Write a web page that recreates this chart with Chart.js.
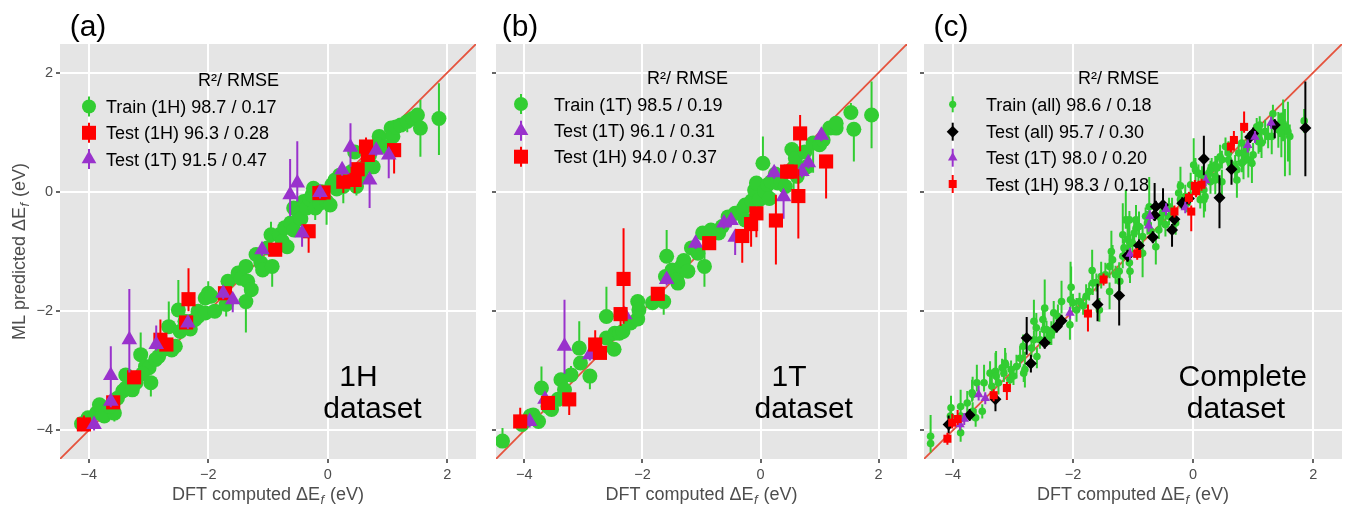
<!DOCTYPE html>
<html>
<head>
<meta charset="utf-8">
<script src="https://cdn.jsdelivr.net/npm/chart.js@4.4.0/dist/chart.umd.min.js"></script>
<style>
  html, body { margin: 0; padding: 0; background: #fff; }
  #wrap { position: relative; width: 1348px; height: 505px; overflow: hidden; }
  canvas { position: absolute; top: 0; }
</style>
</head>
<body>
<div id="wrap">
  <canvas id="pa" width="486" height="505" style="left:0px;width:486px;height:505px"></canvas>
  <canvas id="pb" width="431" height="505" style="left:486px;width:431px;height:505px"></canvas>
  <canvas id="pc" width="431" height="505" style="left:917px;width:431px;height:505px"></canvas>
</div>
<script>
// axis range and ticks (same on both axes of every panel)
const AXIS_MIN = -4.48, AXIS_MAX = 2.48;
const tickValues = [-4, -2, 0, 2];
const diagLine = [-4.48, 2.48];

// rows: [DFT computed, ML predicted, error below, error above]
const trainA = [
  [-4.12,-3.89,0.1,0.1],[-4.01,-3.79,0.1,0.1],[-3.87,-3.71,0.1,0.1],[-3.82,-3.57,0.1,0.1],
  [-3.74,-3.76,0.1,0.1],[-3.57,-3.71,0.14,0.1],[-3.65,-3.60,0.1,0.1],[-3.52,-3.46,0.1,0.1],
  [-3.43,-3.34,0.1,0.1],[-3.38,-3.29,0.1,0.1],[-3.27,-3.32,0.1,0.1],[-3.21,-3.20,0.1,0.1],
  [-3.38,-3.07,0.1,0.1],[-3.13,-2.73,0.1,0.37],[-3.05,-2.93,0.1,0.1],[-2.99,-2.95,0.1,0.1],
  [-3.10,-3.05,0.1,0.1],[-2.96,-3.20,0.23,0.1],[-2.88,-2.81,0.1,0.1],[-2.83,-2.76,0.1,0.1],
  [-2.77,-2.65,0.1,0.1],[-2.66,-2.26,0.1,0.42],[-2.61,-2.65,0.1,0.1],[-2.55,-2.59,0.1,0.1],
  [-2.47,-2.34,0.1,0.1],[-2.50,-1.98,0.1,0.5],[-2.39,-2.17,0.1,0.1],[-2.30,-2.30,0.1,0.1],
  [-2.28,-2.17,0.1,0.1],[-2.22,-2.14,0.1,0.1],[-2.17,-2.00,0.1,0.1],[-2.17,-2.09,0.1,0.1],
  [-2.05,-2.03,0.1,0.1],[-2.05,-1.78,0.1,0.1],[-2.00,-1.70,0.1,0.2],[-1.95,-1.75,0.1,0.1],
  [-1.89,-2.00,0.1,0.1],[-1.70,-1.89,0.2,0.1],[-1.67,-1.50,0.1,0.1],[-1.50,-1.36,0.1,0.1],
  [-1.45,-1.45,0.1,0.1],[-1.37,-1.25,0.1,0.1],[-1.37,-1.84,0.52,0.25],[-1.34,-1.50,0.1,0.1],
  [-1.28,-1.64,0.1,0.1],[-1.20,-1.05,0.1,0.1],[-1.12,-1.19,0.1,0.1],[-1.09,-1.31,0.1,0.1],
  [-0.93,-1.25,0.34,0.1],[-1.01,-0.94,0.1,0.1],[-0.95,-0.72,0.1,0.22],[-0.81,-0.72,0.1,0.1],
  [-0.76,-0.83,0.1,0.1],[-0.72,-0.60,0.1,0.1],[-0.68,-0.92,0.1,0.1],[-0.62,-0.52,0.1,0.1],
  [-0.57,-0.64,0.1,0.1],[-0.57,-0.27,0.1,0.1],[-0.48,-0.36,0.1,0.1],[-0.45,-0.45,0.1,0.1],
  [-0.40,-0.16,0.1,0.1],[-0.35,-0.27,0.1,0.1],[-0.30,-0.12,0.1,0.1],[-0.26,-0.05,0.1,0.1],
  [-0.24,0.06,0.1,0.1],[-0.21,-0.27,0.2,0.1],[-0.13,-0.19,0.1,0.1],[-0.10,0.00,0.1,0.1],
  [-0.02,-0.16,0.39,0.1],[0.04,-0.22,0.1,0.1],[0.07,0.12,0.1,0.1],[0.12,0.20,0.1,0.1],
  [0.15,0.05,0.1,0.1],[0.20,0.28,0.1,0.1],[0.26,0.09,0.28,0.1],[0.34,0.26,0.1,0.1],
  [0.40,0.34,0.1,0.1],[0.45,0.67,0.1,0.1],[0.48,0.09,0.15,0.1],[0.56,0.26,0.1,0.1],
  [0.62,0.42,0.1,0.1],[0.70,0.62,0.1,0.1],[0.76,0.42,0.1,0.1],[0.86,0.93,0.1,0.1],
  [0.84,0.79,0.1,0.1],[0.95,0.76,0.1,0.1],[1.06,1.07,0.1,0.1],[1.09,0.93,0.1,0.1],
  [1.14,1.09,0.1,0.1],[1.22,1.12,0.1,0.1],[1.33,1.18,0.18,0.1],[1.42,1.23,0.1,0.1],
  [1.50,1.29,0.1,0.1],[1.55,1.07,0.48,0.47],[1.86,1.23,0.61,0.59]
];
const test1hA = [
  [-4.08,-3.90,0.1,0.15],[-3.59,-3.53,0.1,0.1],[-3.24,-3.11,0.1,0.1],[-2.80,-2.48,0.1,0.34],
  [-2.70,-2.56,0.1,0.1],[-2.37,-2.19,0.1,0.1],[-2.33,-1.80,0.2,0.52],[-1.72,-1.70,0.1,0.1],
  [-0.88,-0.97,0.1,0.1],[-0.32,-0.66,0.36,0.1],[-0.14,-0.02,0.1,0.1],[-0.07,-0.01,0.1,0.1],
  [0.26,0.17,0.19,0.1],[0.45,0.20,0.22,0.1],[0.50,0.38,0.1,0.1],[0.64,0.76,0.1,0.15],
  [0.67,0.62,0.1,0.1],[1.11,0.70,0.39,0.1]
];
const test1tA = [
  [-3.91,-3.90,0.1,0.1],[-3.63,-3.51,0.1,0.1],[-3.63,-3.08,0.4,0.49],[-3.32,-2.48,0.55,0.85],
  [-2.87,-2.56,0.1,0.32],[-2.34,-2.20,0.1,0.1],[-1.75,-1.70,0.1,0.1],[-1.59,-1.81,0.21,0.1],
  [-1.10,-0.97,0.1,0.1],[-0.63,-0.05,0.36,0.6],[-0.51,0.15,0.31,0.7],[-0.43,-0.69,0.23,0.1],
  [-0.13,-0.01,0.1,0.1],[0.24,0.37,0.1,0.1],[0.38,0.75,0.33,0.4],[0.70,0.20,0.47,0.1],
  [0.81,0.70,0.1,0.1],[1.02,0.62,0.39,0.1]
];

const trainB = [
  [-4.37,-4.18,0.1,0.22],[-4.04,-3.90,0.1,0.1],[-3.90,-3.76,0.1,0.1],[-3.85,-3.74,0.1,0.1],
  [-3.76,-3.85,0.1,0.1],[-3.71,-3.29,0.1,0.36],[-3.60,-3.60,0.1,0.1],[-3.54,-3.65,0.1,0.1],
  [-3.43,-3.48,0.1,0.1],[-3.38,-3.15,0.1,0.1],[-3.32,-3.32,0.1,0.1],[-3.21,-3.07,0.1,0.15],
  [-3.07,-2.62,0.1,0.45],[-3.05,-2.87,0.1,0.1],[-2.89,-3.09,0.22,0.1],[-2.61,-2.09,0.1,0.5],
  [-2.61,-2.45,0.1,0.1],[-2.47,-2.37,0.1,0.1],[-2.48,-2.64,0.1,0.1],[-2.39,-2.37,0.1,0.1],
  [-2.33,-2.34,0.1,0.1],[-2.20,-2.20,0.1,0.1],[-2.08,-2.13,0.1,0.1],[-2.08,-1.84,0.1,0.1],
  [-2.06,-1.98,0.1,0.1],[-1.83,-1.86,0.1,0.1],[-1.64,-1.84,0.22,0.1],[-1.61,-1.42,0.1,0.1],
  [-1.59,-1.08,0.1,0.44],[-1.50,-1.31,0.1,0.1],[-1.42,-1.47,0.1,0.1],[-1.40,-1.53,0.1,0.1],
  [-1.34,-1.25,0.1,0.1],[-1.30,-1.15,0.1,0.1],[-1.23,-1.33,0.1,0.1],[-1.17,-0.94,0.1,0.1],
  [-1.06,-1.03,0.1,0.1],[-0.95,-1.25,0.34,0.55],[-0.98,-0.69,0.1,0.1],[-0.84,-0.64,0.1,0.1],
  [-0.71,-0.69,0.1,0.1],[-0.65,-0.58,0.1,0.1],[-0.55,-0.42,0.1,0.1],[-0.43,-0.36,0.1,0.1],
  [-0.29,-0.27,0.1,0.1],[-0.26,-0.47,0.1,0.1],[-0.26,-0.22,0.1,0.1],[-0.15,-0.15,0.1,0.1],
  [-0.10,0.03,0.1,0.1],[-0.07,0.15,0.1,0.1],[-0.02,-0.13,0.1,0.1],[0.04,0.48,0.1,0.45],
  [0.07,0.01,0.1,0.1],[0.12,0.12,0.1,0.1],[0.15,-0.11,0.1,0.1],[0.18,0.17,0.1,0.1],
  [0.25,0.30,0.1,0.1],[0.29,0.15,0.1,0.1],[0.34,0.20,0.1,0.1],[0.42,0.09,0.1,0.1],
  [0.53,0.71,0.1,0.1],[0.56,0.40,0.5,0.1],[0.59,0.56,0.1,0.1],[0.62,0.26,0.1,0.1],
  [0.75,0.67,0.1,0.1],[0.78,0.42,0.16,0.1],[0.89,0.82,0.5,0.1],[1.00,0.79,0.1,0.1],
  [1.06,0.87,0.1,0.1],[1.17,1.07,0.1,0.1],[1.28,1.07,0.1,0.1],[1.28,1.15,0.1,0.1],
  [1.53,1.33,0.1,0.16],[1.58,1.05,0.54,0.1],[1.88,1.29,0.56,0.56]
];
const test1tB = [
  [-3.91,-3.85,0.1,0.1],[-3.65,-3.48,0.1,0.1],[-3.32,-2.59,0.46,0.78],[-2.89,-2.73,0.1,0.1],
  [-2.30,-2.06,0.1,0.1],[-1.59,-1.47,0.1,0.1],[-1.10,-0.86,0.1,0.1],[-0.62,-0.52,0.1,0.1],
  [-0.50,-0.48,0.1,0.1],[-0.43,-0.76,0.3,0.1],[0.23,0.32,0.1,0.1],[0.39,-0.08,0.37,0.1],
  [0.70,0.34,0.1,0.1],[0.81,0.49,0.1,0.1],[1.03,0.95,0.1,0.1]
];
const test1hB = [
  [-4.07,-3.85,0.1,0.23],[-3.60,-3.54,0.1,0.1],[-3.24,-3.48,0.26,0.1],[-2.80,-2.56,0.1,0.24],
  [-2.72,-2.70,0.1,0.1],[-2.37,-2.05,0.2,0.1],[-2.32,-1.46,0.75,0.85],[-1.74,-1.71,0.1,0.1],
  [-0.87,-0.86,0.1,0.1],[-0.31,-0.74,0.45,0.1],[-0.16,-0.54,0.38,0.1],[-0.07,-0.36,0.4,0.1],
  [0.26,-0.48,0.74,0.43],[0.45,0.34,0.1,0.1],[0.51,0.34,0.1,0.1],[0.64,-0.07,0.71,0.45],
  [0.67,0.98,0.3,0.31],[1.11,0.51,0.62,0.1]
];

const trainC = [
  [-4.37,-4.10,0.2,0.36],[-4.37,-4.22,0.15,0.15],[-4.04,-3.76,0.15,0.15],[-4.03,-3.62,0.15,0.2],
  [-3.87,-4.04,0.15,0.15],[-3.87,-3.60,0.1,0.28],[-3.87,-3.76,0.15,0.15],[-3.76,-3.54,0.15,0.2],
  [-3.68,-3.37,0.15,0.22],[-3.67,-3.68,0.15,0.15],[-3.67,-3.40,0.1,0.3],[-3.62,-3.79,0.15,0.15],
  [-3.60,-3.20,0.15,0.3],[-3.51,-3.68,0.12,0.12],[-3.48,-3.20,0.15,0.3],[-3.38,-3.04,0.2,0.2],
  [-3.35,-3.26,0.2,0.2],[-3.29,-3.01,0.15,0.31],[-3.28,-3.09,0.12,0.42],[-3.24,-3.20,0.2,0.2],
  [-3.18,-2.95,0.15,0.15],[-3.15,-3.04,0.15,0.15],[-3.13,-2.87,0.2,0.25],[-3.12,-2.90,0.1,0.2],
  [-3.05,-3.15,0.15,0.15],[-3.03,-2.98,0.15,0.15],[-2.99,-3.09,0.15,0.15],[-2.94,-2.93,0.2,0.2],
  [-2.88,-2.79,0.15,0.2],[-2.83,-2.59,0.2,0.2],[-2.82,-3.04,0.15,0.15],[-2.80,-2.98,0.3,0.3],
  [-2.69,-2.62,0.15,0.15],[-2.65,-2.17,0.15,0.36],[-2.65,-2.48,0.15,0.15],[-2.61,-2.28,0.2,0.25],
  [-2.60,-2.76,0.2,0.15],[-2.55,-2.48,0.15,0.15],[-2.50,-2.14,0.2,0.2],[-2.48,-2.31,0.15,0.2],
  [-2.47,-1.95,0.15,0.48],[-2.44,-2.31,0.15,0.15],[-2.39,-2.42,0.15,0.15],[-2.36,-2.37,0.2,0.2],
  [-2.32,-2.03,0.15,0.2],[-2.32,-2.31,0.15,0.15],[-2.25,-2.09,0.2,0.2],[-2.19,-1.84,0.2,0.35],
  [-2.05,-2.23,0.25,0.25],[-2.04,-1.81,0.15,0.64],[-2.03,-1.60,0.15,0.35],[-2.00,-1.86,0.15,0.15],
  [-1.94,-1.98,0.2,0.2],[-1.89,-1.84,0.15,0.15],[-1.83,-1.91,0.15,0.15],[-1.78,-1.75,0.2,0.2],
  [-1.73,-1.67,0.15,0.15],[-1.68,-1.32,0.15,0.35],[-1.67,-1.53,0.2,0.2],[-1.61,-1.52,0.15,0.15],
  [-1.56,-1.98,0.2,0.2],[-1.53,-1.42,0.2,0.25],[-1.46,-1.39,0.15,0.2],[-1.39,-1.25,0.2,0.2],
  [-1.39,-1.67,0.3,0.15],[-1.36,-1.00,0.15,0.35],[-1.34,-1.14,0.25,0.25],[-1.29,-1.39,0.15,0.15],
  [-1.23,-1.33,0.15,0.15],[-1.22,-1.50,0.15,0.15],[-1.17,-0.72,0.15,0.53],[-1.17,-1.08,0.2,0.2],
  [-1.15,-0.94,0.15,0.15],[-1.12,-0.47,0.15,0.5],[-1.09,-0.80,0.2,0.3],[-1.06,-1.19,0.25,0.2],
  [-1.06,-0.47,0.6,0.15],[-1.05,-1.33,0.2,0.2],[-1.05,-0.86,0.15,0.15],[-1.01,-0.86,0.15,0.15],
  [-0.98,-0.69,0.15,0.2],[-0.95,-0.61,0.15,0.15],[-0.95,-0.47,0.25,0.25],[-0.90,-0.58,0.25,0.25],
  [-0.84,-1.03,0.4,0.15],[-0.84,-0.75,0.2,0.2],[-0.79,-0.41,0.15,0.15],[-0.76,-0.52,0.2,0.2],
  [-0.73,-0.25,0.2,0.5],[-0.70,-0.66,0.15,0.15],[-0.62,-0.92,0.3,0.15],[-0.57,-0.64,0.15,0.15],
  [-0.54,-0.44,0.15,0.15],[-0.51,-0.36,0.2,0.2],[-0.46,-0.55,0.2,0.2],[-0.40,-0.41,0.15,0.15],
  [-0.40,-0.25,0.15,0.15],[-0.35,-0.30,0.2,0.2],[-0.29,-0.52,0.2,0.2],[-0.24,-0.02,0.2,0.2],
  [-0.21,-0.13,0.15,0.15],[-0.21,0.10,0.15,0.32],[-0.13,-0.08,0.2,0.2],[-0.10,-0.19,0.15,0.15],
  [-0.04,0.12,0.2,0.2],[0.01,0.45,0.15,0.45],[0.04,0.37,0.2,0.2],[0.09,0.31,0.15,0.15],
  [0.12,-0.13,0.15,0.15],[0.15,0.28,0.15,0.15],[0.18,-0.13,0.3,0.15],[0.18,0.03,0.2,0.2],
  [0.20,-0.08,0.25,0.2],[0.26,0.31,0.15,0.15],[0.29,0.37,0.15,0.15],[0.29,0.17,0.2,0.2],
  [0.31,0.42,0.15,0.15],[0.37,0.26,0.3,0.2],[0.37,0.45,0.15,0.15],[0.37,0.20,0.2,0.2],
  [0.40,0.40,0.2,0.2],[0.45,0.59,0.2,0.2],[0.48,0.17,0.3,0.2],[0.48,0.54,0.15,0.15],
  [0.54,0.76,0.15,0.15],[0.59,0.54,0.15,0.15],[0.59,0.65,0.2,0.2],[0.62,0.48,0.15,0.15],
  [0.70,0.42,0.25,0.2],[0.73,0.20,0.3,0.2],[0.73,0.37,0.33,0.15],[0.76,0.65,0.15,0.15],
  [0.81,0.48,0.15,0.15],[0.81,0.82,0.2,0.2],[0.84,0.51,0.3,0.2],[0.87,0.65,0.15,0.15],
  [0.89,0.73,0.15,0.15],[0.92,0.54,0.3,0.2],[0.98,0.48,0.33,0.15],[1.00,0.62,0.2,0.2],
  [1.06,1.09,0.15,0.15],[1.09,0.84,0.2,0.2],[1.11,0.87,0.2,0.2],[1.11,1.12,0.15,0.15],
  [1.14,0.82,0.25,0.25],[1.20,1.01,0.2,0.2],[1.25,0.93,0.2,0.2],[1.31,0.93,0.3,0.3],
  [1.33,1.31,0.15,0.15],[1.42,1.04,0.3,0.3],[1.44,1.12,0.2,0.2],[1.47,0.98,0.4,0.35],
  [1.50,1.15,0.3,0.4],[1.53,1.09,0.83,0.3],[1.58,1.01,0.5,0.5],[1.61,0.93,0.65,0.2],
  [1.85,1.19,0.2,0.2]
];
const testAllC = [
  [-4.07,-3.90,0.15,0.15],[-3.72,-3.74,0.1,0.1],[-3.29,-3.48,0.2,0.1],[-2.77,-2.45,0.28,0.35],
  [-2.70,-2.88,0.15,0.15],[-2.47,-2.53,0.1,0.1],[-2.27,-2.26,0.1,0.1],[-2.19,-2.16,0.1,0.1],
  [-1.59,-1.89,0.28,0.35],[-1.23,-1.74,0.5,0.29],[-1.09,-1.07,0.1,0.1],[-0.90,-0.90,0.1,0.1],
  [-0.67,-0.76,0.1,0.1],[-0.64,-0.39,0.1,0.54],[-0.62,-0.25,0.1,0.1],[-0.50,-0.22,0.1,0.28],
  [-0.35,-0.64,0.28,0.1],[-0.31,-0.46,0.1,0.1],[-0.18,-0.19,0.1,0.1],[-0.07,-0.11,0.1,0.1],
  [0.18,0.55,0.27,0.39],[0.44,-0.10,0.51,0.38],[0.64,0.38,0.26,0.16],[0.95,0.92,0.1,0.1],
  [1.00,0.98,0.1,0.1],[1.36,1.12,0.22,0.1],[1.87,1.07,0.81,0.78]
];
const test1tC = [
  [-3.88,-3.90,0.1,0.1],[-3.81,-3.81,0.1,0.1],[-3.57,-3.40,0.1,0.15],[-3.46,-3.46,0.1,0.1],
  [-2.05,-2.03,0.1,0.1],[-1.05,-1.04,0.1,0.1],[-0.74,-0.57,0.1,0.1],[-0.72,-0.41,0.1,0.1],
  [-0.45,-0.29,0.1,0.1],[-0.13,-0.26,0.1,0.1],[0.21,0.19,0.1,0.1],[0.91,0.78,0.12,0.1],
  [1.03,0.92,0.1,0.1],[1.30,1.16,0.1,0.1]
];
const test1hC = [
  [-4.09,-4.14,0.1,0.1],[-4.01,-3.87,0.1,0.15],[-3.92,-3.81,0.1,0.15],[-3.32,-3.41,0.1,0.1],
  [-3.10,-3.29,0.2,0.1],[-1.75,-2.04,0.3,0.15],[-1.49,-1.47,0.1,0.1],[-0.93,-1.04,0.1,0.1],
  [-0.31,-0.33,0.1,0.1],[-0.07,-0.10,0.1,0.1],[-0.03,-0.33,0.33,0.1],[0.03,0.10,0.1,0.1],
  [0.05,0.01,0.1,0.1],[0.14,0.12,0.1,0.1],[0.63,0.76,0.1,0.1],[0.68,0.87,0.1,0.15],
  [0.85,1.09,0.1,0.26]
];

const labelsA = ['Train (1H) 98.7 / 0.17', 'Test (1H) 96.3 / 0.28', 'Test (1T) 91.5 / 0.47'];
const labelsB = ['Train (1T) 98.5 / 0.19', 'Test (1T) 96.1 / 0.31', 'Test (1H) 94.0 / 0.37'];
const labelsC = ['Train (all) 98.6 / 0.18', 'Test (all) 95.7 / 0.30', 'Test (1T) 98.0 / 0.20', 'Test (1H) 98.3 / 0.18'];
const legendTitle = 'R\u00b2/ RMSE';
const xTitle = 'DFT computed \u0394E_f (eV)';
const yTitle = 'ML predicted \u0394E_f (eV)';

const GREEN = '#32CD32', RED = '#FF0000', PURPLE = '#9932CC', BLACK = '#000000';
const LINE_RED = '#E5533D';
const PANEL_BG = '#E5E5E5';
const AXIS_TEXT = '#4D4D4D';
const FONT = "'Liberation Sans', Arial, Helvetica, sans-serif";

// grey panel behind the grid
const panelBg = {
  id: 'panelBg',
  beforeDraw(chart) {
    const { ctx, chartArea: a } = chart;
    ctx.save();
    ctx.fillStyle = PANEL_BG;
    ctx.fillRect(a.left, a.top, a.right - a.left, a.bottom - a.top);
    ctx.restore();
  }
};

// vertical error bars, drawn just under each series
const errorBars = {
  id: 'errorBars',
  beforeDatasetDraw(chart, args) {
    const ds = chart.data.datasets[args.index];
    if (!ds.bars) return;
    const { ctx, chartArea: a, scales: { x, y } } = chart;
    ctx.save();
    ctx.beginPath();
    ctx.rect(a.left, a.top, a.right - a.left, a.bottom - a.top);
    ctx.clip();
    ctx.strokeStyle = ds.barColor;
    ctx.lineWidth = ds.barWidth;
    ctx.beginPath();
    ds.bars.forEach(r => {
      const px = x.getPixelForValue(r[0]);
      ctx.moveTo(px, y.getPixelForValue(r[1] - r[2]));
      ctx.lineTo(px, y.getPixelForValue(r[1] + r[3]));
    });
    ctx.stroke();
    ctx.restore();
  }
};
Chart.register(panelBg, errorBars);

function drawSymbol(ctx, s, x, y) {
  ctx.fillStyle = s.color;
  ctx.strokeStyle = s.color;
  ctx.lineWidth = 2;
  ctx.beginPath();
  ctx.moveTo(x, y - s.stub);
  ctx.lineTo(x, y + s.stub);
  ctx.stroke();
  ctx.beginPath();
  const r = s.size;
  if (s.shape === 'circle') ctx.arc(x, y, r, 0, Math.PI * 2);
  else if (s.shape === 'rect') ctx.rect(x - r, y - r, 2 * r, 2 * r);
  else if (s.shape === 'triangle') {
    ctx.moveTo(x, y - r);
    ctx.lineTo(x + r * 0.866, y + r / 2);
    ctx.lineTo(x - r * 0.866, y + r / 2);
    ctx.closePath();
  } else {
    ctx.moveTo(x, y - r); ctx.lineTo(x + r, y); ctx.lineTo(x, y + r); ctx.lineTo(x - r, y);
    ctx.closePath();
  }
  ctx.fill();
}

// title with an italic subscript f
function drawTitle(ctx, text, cx, base, angle) {
  const [pre, post] = text.split('_f');
  const big = '18px ' + FONT, small = 'italic 13px ' + FONT;
  ctx.save();
  ctx.translate(cx, base);
  ctx.rotate(angle);
  ctx.fillStyle = AXIS_TEXT;
  ctx.textAlign = 'left';
  ctx.textBaseline = 'alphabetic';
  ctx.font = big; const w1 = ctx.measureText(pre).width;
  ctx.font = small; const w2 = ctx.measureText('f').width + 1.5;
  ctx.font = big; const w3 = ctx.measureText(post).width;
  const x0 = -(w1 + w2 + w3) / 2;
  ctx.fillText(pre, x0, 0);
  ctx.font = small; ctx.fillText('f', x0 + w1 + 0.5, 4);
  ctx.font = big; ctx.fillText(post, x0 + w1 + w2, 0);
  ctx.restore();
}

function decoPlugin(cfg) {
  return {
    id: 'deco',
    afterDraw(chart) {
      const { ctx, chartArea: a } = chart;
      const o = cfg.offset;
      ctx.save();
      ctx.fillStyle = '#000';
      ctx.textBaseline = 'alphabetic';
      // panel tag
      ctx.font = '30px ' + FONT;
      ctx.textAlign = 'center';
      ctx.fillText(cfg.tag, cfg.tagX - o, 36);
      // legend
      ctx.font = '18px ' + FONT;
      ctx.textAlign = 'left';
      ctx.fillText(legendTitle, cfg.titleX - o, cfg.titleY);
      cfg.entries.forEach((e, i) => {
        drawSymbol(ctx, e, cfg.symX - o, cfg.rowsY[i]);
        ctx.fillStyle = '#000';
        ctx.fillText(cfg.labels[i], cfg.textX - o, cfg.rowsY[i] + 6.5);
      });
      // dataset note
      ctx.font = '30px ' + FONT;
      ctx.textAlign = 'center';
      ctx.fillText(cfg.note[0], cfg.noteX[0] - o, 386);
      ctx.fillText(cfg.note[1], cfg.noteX[1] - o, 418);
      ctx.restore();
      drawTitle(ctx, xTitle, (a.left + a.right) / 2, 500, 0);
      if (cfg.yTitle) drawTitle(ctx, yTitle, 25, (a.top + a.bottom) / 2, -Math.PI / 2);
    }
  };
}

function series(rows, shape, color, r, bw, order) {
  return {
    type: 'scatter',
    data: rows.map(p => ({ x: p[0], y: p[1] })),
    bars: rows,
    barColor: color,
    barWidth: bw,
    pointStyle: shape,
    pointRadius: r,
    pointHoverRadius: r,
    backgroundColor: color,
    borderColor: color,
    borderWidth: 0,
    order: order
  };
}

const fmtTick = v => (v < 0 ? '\u2212' + Math.abs(v) : String(v));

function axis(extra) {
  return Object.assign({
    type: 'linear',
    min: AXIS_MIN,
    max: AXIS_MAX,
    bounds: 'data',
    afterBuildTicks: s => { s.ticks = tickValues.map(v => ({ value: v })); },
    border: { display: false },
    grid: { color: '#FFFFFF', lineWidth: 2, drawTicks: true, tickLength: 4, tickColor: '#333333', tickWidth: 1.5 },
    ticks: { color: AXIS_TEXT, font: { family: FONT, size: 14.5 }, padding: 3, callback: fmtTick }
  }, extra);
}

function makePanel(id, datasets, cfg) {
  const yAx = axis({ afterFit: s => { s.width = cfg.yWidth; } });
  if (!cfg.yTitle) yAx.ticks = Object.assign({}, yAx.ticks, { display: false });
  return new Chart(document.getElementById(id), {
    type: 'scatter',
    data: {
      datasets: [{
        type: 'line',
        data: diagLine.map(v => ({ x: v, y: v })),
        borderColor: LINE_RED,
        borderWidth: 1.8,
        pointRadius: 0,
        fill: false,
        order: 10
      }].concat(datasets)
    },
    options: {
      responsive: false,
      animation: false,
      events: [],
      layout: { padding: { left: 0, right: cfg.padRight, top: 44, bottom: 0 } },
      plugins: { legend: { display: false }, tooltip: { enabled: false } },
      scales: {
        x: axis({ afterFit: s => { s.height = 46; } }),
        y: yAx
      }
    },
    plugins: [decoPlugin(cfg)]
  });
}

makePanel('pa', [
  series(trainA, 'circle', GREEN, 7.5, 2, 5),
  series(test1hA, 'rect', RED, 10, 2, 4),
  series(test1tA, 'triangle', PURPLE, 9, 2, 3)
], {
  offset: 0, yWidth: 60, padRight: 5, yTitle: true,
  tag: '(a)', tagX: 88,
  titleX: 198, titleY: 86, symX: 89, textX: 106, rowsY: [106.5, 132.8, 159],
  labels: labelsA,
  entries: [
    { shape: 'circle', color: GREEN, size: 7, stub: 10 },
    { shape: 'rect', color: RED, size: 7, stub: 10 },
    { shape: 'triangle', color: PURPLE, size: 8.5, stub: 10 }
  ],
  note: ['1H', 'dataset'], noteX: [358.5, 372.5]
});

makePanel('pb', [
  series(trainB, 'circle', GREEN, 7.5, 2, 5),
  series(test1tB, 'triangle', PURPLE, 9, 2, 4),
  series(test1hB, 'rect', RED, 10, 2, 3)
], {
  offset: 486, yWidth: 6, padRight: 4, yTitle: false,
  tag: '(b)', tagX: 520,
  titleX: 647, titleY: 84, symX: 521, textX: 554, rowsY: [104, 130.7, 156.7],
  labels: labelsB,
  entries: [
    { shape: 'circle', color: GREEN, size: 7, stub: 10 },
    { shape: 'triangle', color: PURPLE, size: 8.5, stub: 10 },
    { shape: 'rect', color: RED, size: 7, stub: 10 }
  ],
  note: ['1T', 'dataset'], noteX: [789, 803.7]
});

makePanel('pc', [
  series(trainC, 'circle', GREEN, 3.8, 2, 5),
  series(testAllC, 'rectRot', BLACK, 6, 2, 4),
  series(test1tC, 'triangle', PURPLE, 5.5, 2, 3),
  series(test1hC, 'rect', RED, 5.7, 2, 2)
], {
  offset: 917, yWidth: 7, padRight: 3, yTitle: false,
  tag: '(c)', tagX: 951,
  titleX: 1078, titleY: 84.3, symX: 952.7, textX: 986, rowsY: [104.3, 131.7, 157.7, 184],
  labels: labelsC,
  entries: [
    { shape: 'circle', color: GREEN, size: 3.6, stub: 8 },
    { shape: 'diamond', color: BLACK, size: 6, stub: 9 },
    { shape: 'triangle', color: PURPLE, size: 5.5, stub: 9 },
    { shape: 'rect', color: RED, size: 4, stub: 9 }
  ],
  note: ['Complete', 'dataset'], noteX: [1242.8, 1236]
});
</script>
</body>
</html>
